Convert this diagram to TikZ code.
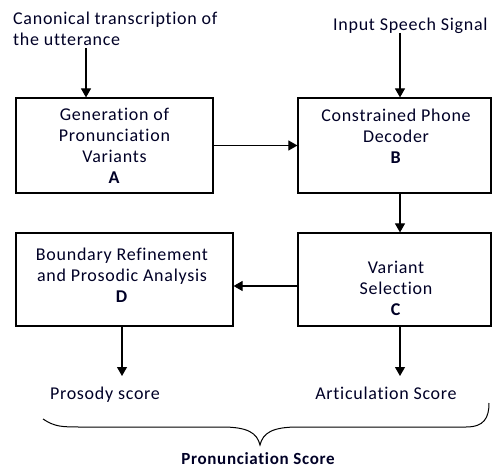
\documentclass[tikz,border=0pt]{standalone}
\usepackage{fontspec}
\setmainfont{Carlito}[LetterSpace=4,Ligatures={NoCommon}]
\usetikzlibrary{arrows.meta}
\begin{document}
\begin{tikzpicture}[x=1pt,y=-1pt,
  box/.style={draw, line width=1.2pt, inner sep=0pt},
  txt/.style={font=\fontsize{18}{21}\selectfont, text=black!85!blue, align=center, inner sep=0pt},
  arr/.style={line width=1.1pt, -{Triangle[length=9pt,width=10pt]}},
  brc/.style={line width=1pt}]
\useasboundingbox (0,0) rectangle (492,470);
% boxes
\node[box, minimum width=197pt, minimum height=95pt] (A) at (114.5,145.5) {};
\node[box, minimum width=193pt, minimum height=95pt] (B) at (394.5,145.5) {};
\node[box, minimum width=193pt, minimum height=93pt] (C) at (394.5,279.5) {};
\node[box, minimum width=217pt, minimum height=93pt] (D) at (124.5,279.5) {};
% box texts
\node[txt] (At) at (114.5,146) {Generation of\\Pronunciation\\Variants\\\textbf{A}};
\node[txt] (Bt) at (396,136) {Constrained Phone\\Decoder\\\textbf{B}};
\node[txt] (Ct) at (396,288) {Variant\\Selection\\\textbf{C}};
\node[txt] (Dt) at (122,275) {Boundary Refinement\\and Prosodic Analysis\\\textbf{D}};
% inputs
\node[txt, align=left, anchor=west] (can) at (13,29) {Canonical transcription of\\the utterance};
\node[txt, anchor=west] (inp) at (333,26) {Input Speech Signal};
\coordinate (canb) at (86,48);
\coordinate (inpb) at (400,33);
% outputs
\node[txt] (pro) at (105,395) {Prosody score};
\node[txt] (art) at (386,393) {Articulation Score};
\node[txt, font=\fontsize{17}{21}\selectfont\bfseries] (pron) at (258,459) {Pronunciation Score};
% arrows
\draw[arr] (canb) -- (canb |- A.north);
\draw[arr] (inpb) -- (inpb |- B.north);
\draw[arr] (A.east) -- (A.east -| B.west);
\draw[arr] (inpb |- B.south) -- (inpb |- C.north);
\draw[arr] (C.west |- 0,286) -- (D.east |- 0,286);
\coordinate (dd) at (122,326);
\draw[arr] (dd |- D.south) -- (122,376);
\draw[arr] (inpb |- C.south) -- (400,376);
% brace
\coordinate (bl) at (43,419);
\coordinate (bt) at (260,445);
\coordinate (br) at (489,403);
\draw[brc] (bl) .. controls (55,427) and (62,427) .. (82,427) -- (222,427)
  .. controls (248,427) and (257,433) .. (bt)
  .. controls (263,433) and (272,427) .. (298,427) -- (466,427)
  .. controls (484,427) and (489,418) .. (br);
\end{tikzpicture}
\end{document}
